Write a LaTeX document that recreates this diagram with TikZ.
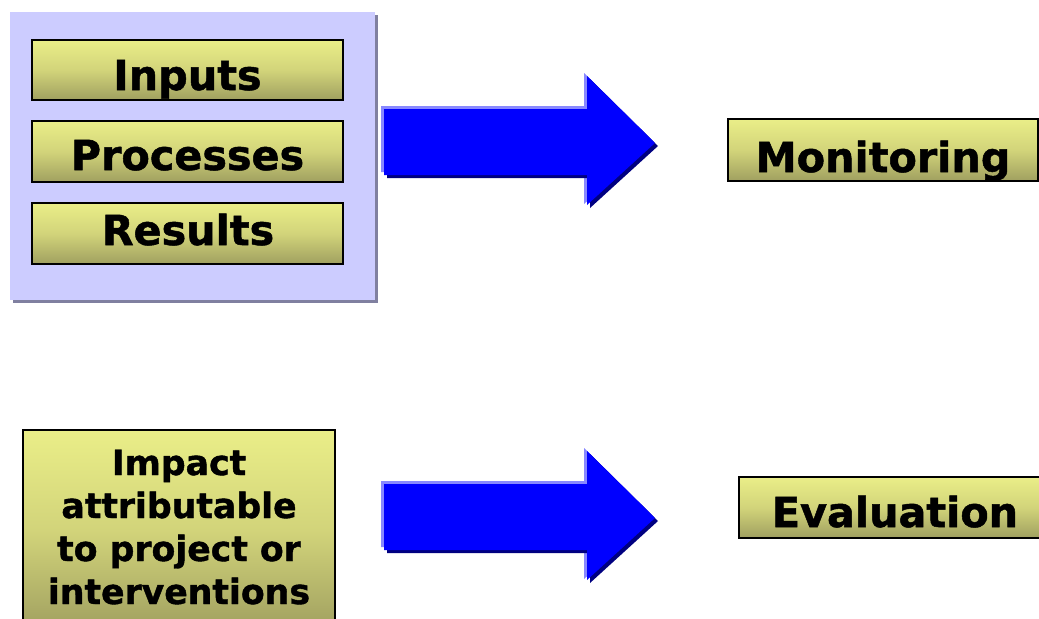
\documentclass[tikz,border=0pt]{standalone}
\usepackage{fontspec}
\setmainfont{DejaVu Sans}[BoldFeatures={FakeBold=1.2}]
\begin{document}
\begin{tikzpicture}[x=0.75pt,y=-0.75pt,
  ybox/.style={draw=black,line width=1.5pt,top color=yellowtop,bottom color=yellowbot,middle color=yellowmid},
  lbl/.style={font=\bfseries\fontsize{31pt}{37pt}\selectfont,anchor=base,inner sep=0pt},
  ilbl/.style={font=\bfseries\fontsize{26pt}{32pt}\selectfont,anchor=base,inner sep=0pt},
]
\definecolor{yellowtop}{RGB}{234,238,136}
\definecolor{yellowmid}{RGB}{210,212,122}
\definecolor{yellowbot}{RGB}{160,160,96}
\definecolor{lav}{RGB}{204,204,255}
\definecolor{lavshadow}{RGB}{128,128,160}
\definecolor{arrowblue}{RGB}{0,0,255}
\definecolor{arrowdark}{RGB}{0,0,128}
\definecolor{arrowlight}{RGB}{136,136,255}
\useasboundingbox (0,0) rectangle (1039,618);
\clip (0,0) rectangle (1039,618);
% lavender panel
\fill[lavshadow] (13,15) rectangle (378,303);
\fill[lav] (10,12) rectangle (375,300);
% boxes
\path[ybox] (32,40) rectangle (343,100);
\node[lbl] (inputs) at (187.5,90) {Inputs};
\path[ybox] (32,121) rectangle (343,182);
\node[lbl] (processes) at (187.5,170) {Processes};
\path[ybox] (32,203) rectangle (343,264);
\node[lbl] (results) at (188,245) {Results};
\path[ybox] (728,119) rectangle (1038,181);
\node[lbl] (monitoring) at (883,172) {Monitoring};
\path[ybox] (739,477) rectangle (1051,538);
\node[lbl] (evaluation) at (895,527) {Evaluation};
\path[ybox] (23,430) rectangle (335,630);
\node[ilbl] (impact1) at (179,475) {Impact};
\node[ilbl] (impact2) at (179,518) {attributable};
\node[ilbl] (impact3) at (179,561) {to project or};
\node[ilbl] (impact4) at (179,604) {interventions};
% arrows
\foreach \dy in {0,375}{
  \begin{scope}[yshift=-0.75*\dy pt]
  \fill[arrowlight] (381,106) -- (584,106) -- (584,73) -- (654,142) -- (584,204) -- (584,172) -- (381,172) -- cycle;
  \fill[arrowdark] (387,112) -- (590,112) -- (590,79) -- (658,146) -- (590,208) -- (590,178) -- (387,178) -- cycle;
  \fill[arrowblue] (384,109) -- (587,109) -- (587,76) -- (655,143) -- (587,205) -- (587,175) -- (384,175) -- cycle;
  \end{scope}
}
\end{tikzpicture}
\end{document}
